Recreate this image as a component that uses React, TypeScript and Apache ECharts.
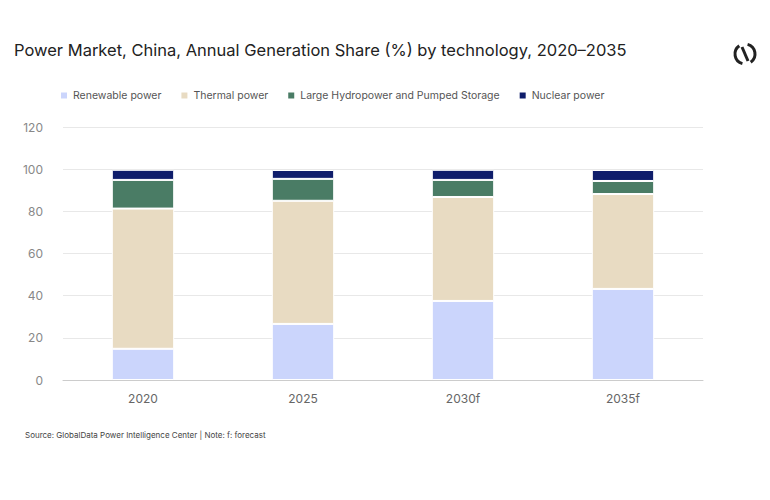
import React, { useEffect, useRef } from 'react';
import * as echarts from 'echarts';

const categories = ['2020', '2025', '2030f', '2035f'];
const renewable = [14.8, 26.6, 37.5, 43.2];
const thermal = [66.5, 58.4, 49.3, 45.0];
const hydro = [13.6, 10.4, 8.1, 6.2];
const nuclear = [4.8, 4.2, 4.8, 5.2];
const yTicks = { min: 0, max: 120, interval: 20 };

const FONT = 'Inter, "Open Sans", sans-serif';
const deg = (d: number) => (d * Math.PI) / 180;

const App: React.FC = () => {
  const ref = useRef<HTMLDivElement>(null);

  useEffect(() => {
    if (!ref.current) return;
    const chart = echarts.init(ref.current, null, { renderer: 'svg' });
    const mk = (name: string, data: number[], color: string) => ({
      name,
      type: 'bar',
      stack: 'total',
      data,
      barWidth: '39%',
      itemStyle: { color, borderColor: '#fff', borderWidth: 1 },
    });
    chart.setOption({
      animation: false,
      textStyle: { fontFamily: FONT },
      title: {
        text: 'Power Market, China, Annual Generation Share (%) by technology, 2020–2035',
        left: 9,
        top: 36,
        textStyle: { fontSize: 16.5, fontWeight: 'normal', color: '#222', fontFamily: FONT },
      },
      legend: {
        top: 85,
        left: 54,
        itemWidth: 8,
        itemHeight: 8,
        itemGap: 18,
        icon: 'rect',
        textStyle: { fontSize: 10.5, color: '#555' },
      },
      grid: { left: 63, right: 67, top: 127, bottom: 120 },
      xAxis: {
        type: 'category',
        data: categories,
        axisLine: { lineStyle: { color: '#ccc' } },
        axisTick: { show: false },
        axisLabel: { color: '#666', fontSize: 12, margin: 12 },
      },
      yAxis: {
        type: 'value',
        ...yTicks,
        axisLabel: { color: '#888', fontSize: 12, margin: 20 },
        splitLine: { lineStyle: { color: '#e8e8e8' } },
      },
      graphic: [
        {
          type: 'text',
          left: 25,
          top: 431,
          style: {
            text: 'Source: GlobalData Power Intelligence Center | Note: f: forecast',
            fontSize: 8,
            fill: '#444',
            fontFamily: FONT,
          },
        },
        {
          type: 'arc',
          shape: { cx: 745, cy: 54, r: 10, startAngle: deg(-75), endAngle: deg(55), clockwise: true },
          style: { stroke: '#222', lineWidth: 3, fill: 'none' },
        },
        {
          type: 'arc',
          shape: { cx: 745, cy: 54, r: 10, startAngle: deg(105), endAngle: deg(235), clockwise: true },
          style: { stroke: '#222', lineWidth: 3, fill: 'none' },
        },
        {
          type: 'line',
          shape: { x1: 742, y1: 47, x2: 748, y2: 61 },
          style: { stroke: '#222', lineWidth: 3 },
        },
      ],
      series: [
        mk('Renewable power', renewable, '#cbd5fc'),
        mk('Thermal power', thermal, '#e8dbc2'),
        mk('Large Hydropower and Pumped Storage', hydro, '#4a7c65'),
        mk('Nuclear power', nuclear, '#0f1d6b'),
      ],
    });
    return () => chart.dispose();
  }, []);

  return <div ref={ref} style={{ width: 770, height: 500, margin: -8 }} />;
};

export default App;
